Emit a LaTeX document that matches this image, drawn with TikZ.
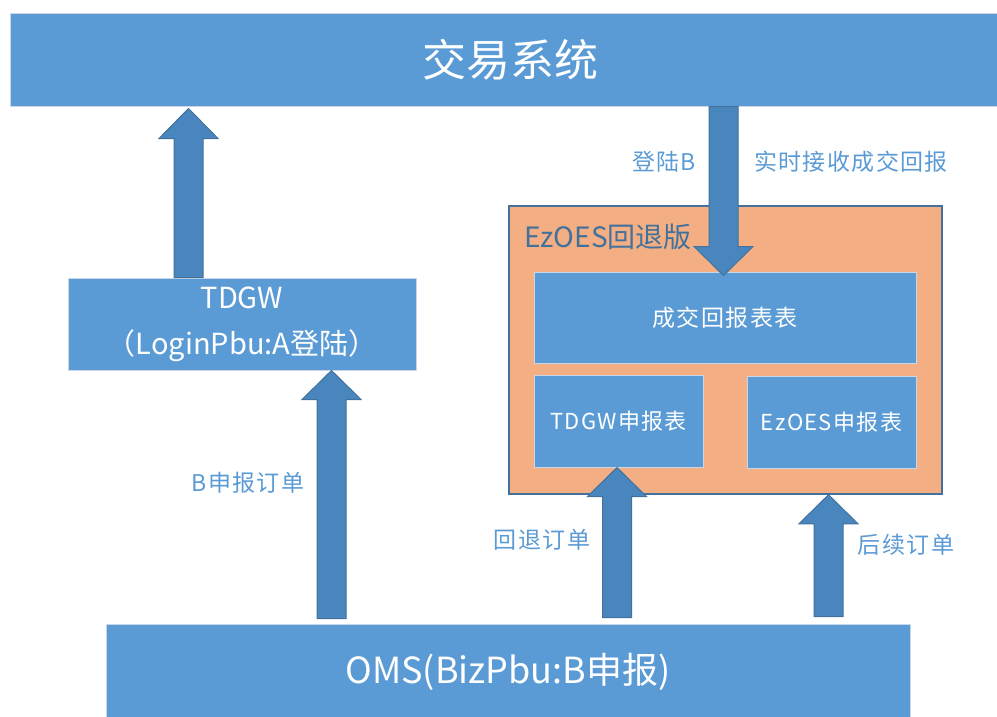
\documentclass[tikz,border=0pt]{standalone}
\usepackage{fontspec}
\setmainfont{Noto Sans CJK SC}
\newfontfamily\widefont[LetterSpace=6]{Noto Sans CJK SC}
\usepackage{tikz}
\usetikzlibrary{calc}
\definecolor{boxblue}{HTML}{5B9BD5}
\definecolor{boxedge}{HTML}{C9D7E6}
\definecolor{arrblue}{HTML}{4A86BE}
\definecolor{arredge}{HTML}{41719C}
\definecolor{peach}{HTML}{F3AF83}
\tikzset{box/.style={rectangle,fill=boxblue,draw=boxedge,line width=1pt,
    text=white,inner sep=0pt,align=center},
  fatarr/.style={fill=arrblue,draw=arredge,line width=1pt,line join=miter},
  lbl/.style={text=boxblue,inner sep=0pt,font=\widefont\fontsize{23}{27}\selectfont}}
% block arrow: tail, tip, signed head length
\newcommand{\fatarrow}[3]{%
  \draw [fatarr] let \p1=(#1), \p2=(#2) in
    (\x1-14.5pt,\y1) -- (\x1-14.5pt,\y2-#3) -- (\x1-29.5pt,\y2-#3)
    -- (\x1,\y2) -- (\x1+29.5pt,\y2-#3) -- (\x1+14.5pt,\y2-#3)
    -- (\x1+14.5pt,\y1) -- cycle;}

\begin{document}
\begin{tikzpicture}[x=1pt,y=-1pt,line cap=round]

  \useasboundingbox [fill=white] (0,0) rectangle (997,716);

  \draw (510,59.5) node (trade) [box,minimum width=1000pt,minimum height=93pt,
    font=\fontsize{44}{50}\selectfont] {交易系统};

  \draw (242,324) node (tdgw) [box,minimum width=348pt,minimum height=92pt,
    font=\fontsize{29}{46}\selectfont] {TDGW\\（LoginPbu:A登陆）};

  \draw (508,672) node (oms) [box,minimum width=804pt,minimum height=96pt,
    font=\fontsize{36}{40}\selectfont] {OMS(BizPbu:B申报)};

  \draw (725.5,350) node (ezoes) [rectangle,fill=peach,draw=arredge,line width=1.5pt,
    minimum width=433pt,minimum height=288pt] {};
  \draw (524,237) node (ezname) [anchor=west,inner sep=0pt,text=arredge,
    font=\fontsize{28}{32}\selectfont] {EzOES回退版};

  \draw (725,317.5) node (deal) [box,minimum width=382pt,minimum height=91pt,
    font=\widefont\fontsize{23}{27}\selectfont] {成交回报表表};
  \draw (618.5,421) node (tdgwtab) [box,minimum width=169pt,minimum height=92pt,
    font=\widefont\fontsize{22}{26}\selectfont] {TDGW申报表};
  \draw (831.5,422) node (eztab) [box,minimum width=169pt,minimum height=92pt,
    font=\widefont\fontsize{22}{26}\selectfont] {EzOES申报表};

  \coordinate (xa) at (188.5,0);
  \coordinate (xb) at (331.5,0);
  \coordinate (xc) at (723.5,0);
  \coordinate (xd) at (617,0);
  \coordinate (xe) at (828.5,0);

  \fatarrow{tdgw.north -| xa}{$(trade.south -| xa)+(0,2)$}{30pt}
  \fatarrow{$(oms.north -| xb)+(0,-5)$}{tdgw.south -| xb}{29pt}
  \fatarrow{trade.south -| xc}{$(deal.north -| xc)+(0,4)$}{-29pt}
  \fatarrow{$(oms.north -| xd)+(0,-6)$}{tdgwtab.south -| xd}{29pt}
  \fatarrow{$(oms.north -| xe)+(0,-7)$}{ezoes.south -| xe}{29pt}

  %\draw (664,140) node {};

  \draw (664,162) node (loginb) [lbl] {登陆B};
  \draw (851,162) node (recv) [lbl] {实时接收成交回报};
  \draw (248,483) node (border) [lbl] {B申报订单};
  \draw (542,540) node (backord) [lbl] {回退订单};
  \draw (906,545) node (nextord) [lbl] {后续订单};

\end{tikzpicture}
\end{document}
